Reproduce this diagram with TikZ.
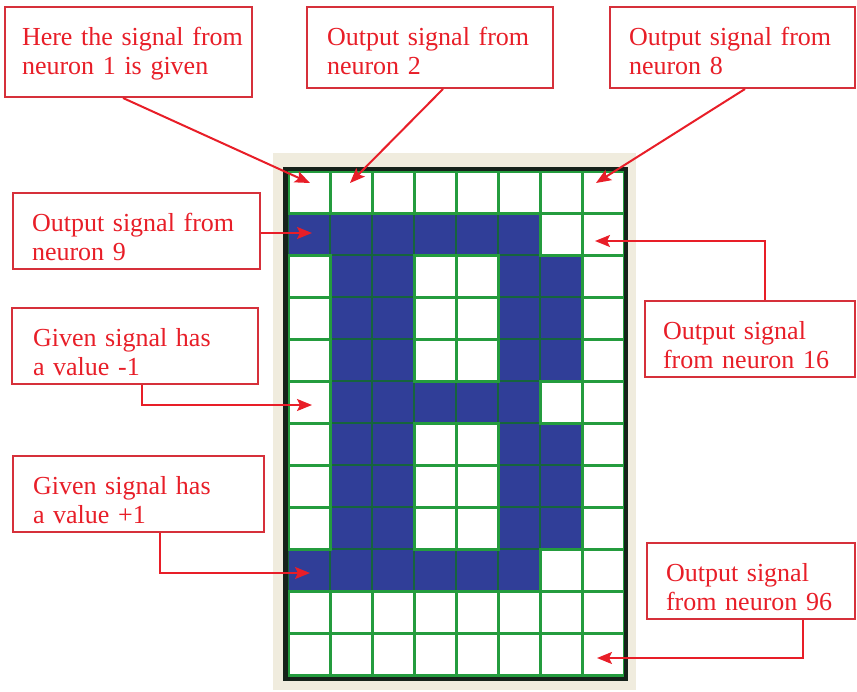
\documentclass[tikz,border=0pt]{standalone}
\usepackage{fontspec}
\setmainfont{Liberation Serif}
\usepackage{tikz}
\usetikzlibrary{arrows.meta,calc}
\definecolor{gridBeige}{RGB}{240,236,222}
\definecolor{cellBlue}{RGB}{48,62,152}
\definecolor{gridGreen}{RGB}{36,156,62}
\definecolor{gridDark}{RGB}{22,100,62}
\definecolor{frameDark}{RGB}{22,34,26}
\definecolor{calloutRed}{RGB}{214,48,58}
\definecolor{signalRed}{RGB}{232,30,40}
% rows of the letter, 1 = value +1 (blue), 0 = value -1 (white)
\def\letterrows{{0,0,0,0,0,0,0,0},{1,1,1,1,1,1,0,0},{0,1,1,0,0,1,1,0},%
  {0,1,1,0,0,1,1,0},{0,1,1,0,0,1,1,0},{0,1,1,1,1,1,0,0},{0,1,1,0,0,1,1,0},%
  {0,1,1,0,0,1,1,0},{0,1,1,0,0,1,1,0},{1,1,1,1,1,1,0,0},{0,0,0,0,0,0,0,0},%
  {0,0,0,0,0,0,0,0}}

\begin{document}
\begin{tikzpicture}[x=1pt, y=-1pt,
    callout/.style={rectangle, draw=calloutRed, fill=white, line width=2pt,
      text=signalRed, align=left, inner xsep=0pt, inner ysep=0pt,
      text height=38pt, font=\fontsize{26}{29.5}\selectfont},
    pointer/.style={draw=signalRed, line width=2pt,
      -{Stealth[length=15pt, width=12pt, inset=3pt]}},
    gridline/.style={draw=gridGreen, line width=3pt},
    innerline/.style={draw=gridDark, line width=2pt}
  ]
  \useasboundingbox (0,0) rectangle (857,691);

  % panel with the 8 x 12 grid of neurons
  \fill[gridBeige] (273,153) rectangle (636,690);
  \fill[white] (285,169) rectangle (626,679);
  \foreach \bits [count=\r] in \letterrows {
    \foreach \b [count=\c] in \bits {
      \ifnum\b=1 \fill[cellBlue] ({288+42*(\c-1)},{171+42*(\r-1)}) rectangle ++(42,42); \fi
    }
  }
  \foreach \i in {0,...,8} \draw[innerline] ({288+42*\i},171) -- ++(0,504);
  \foreach \j in {0,...,12} \draw[innerline] (288,{171+42*\j}) -- ++(336,0);
  \foreach \bits [count=\r] in \letterrows {
    \foreach \b [count=\c] in \bits {
      \ifnum\b=0 \draw[gridline] ({288+42*(\c-1)},{171+42*(\r-1)}) rectangle ++(42,42); \fi
    }
  }
  \draw[frameDark, line width=4.5pt] (285.5,169) rectangle (626,679);

  % points the callouts refer to
  \coordinate (n1)  at (310,183);
  \coordinate (n2)  at (350,183);
  \coordinate (n8)  at (596,183);
  \coordinate (n9)  at (312,233);
  \coordinate (n16) at (595,241);
  \coordinate (n41) at (312,405);
  \coordinate (n73) at (310,573);
  \coordinate (n96) at (597,658);

  % callouts
  \node[callout, minimum width=247pt, minimum height=90pt, text width=213pt, text depth=52pt]
    (b1) at (128.5,52) {\mbox{Here the signal from}\\neuron 1 is given};
  \node[callout, minimum width=246pt, minimum height=81pt, text width=206pt, text depth=43pt]
    (b2) at (430,47.5) {\mbox{Output signal from}\\neuron 2};
  \node[callout, minimum width=245pt, minimum height=81pt, text width=207pt, text depth=43pt]
    (b3) at (732.5,47.5) {\mbox{Output signal from}\\neuron 8};
  \node[callout, minimum width=247pt, minimum height=76pt, text width=209pt, text depth=38pt]
    (b4) at (136.5,231) {\mbox{Output signal from}\\neuron 9};
  \node[callout, minimum width=246pt, minimum height=76pt, text width=204pt, text depth=38pt]
    (b5) at (135,346) {Given signal has\\a value -1};
  \node[callout, minimum width=210pt, minimum height=76pt, text width=174pt, text depth=38pt]
    (b6) at (750,339) {Output signal\\from neuron 16};
  \node[callout, minimum width=251pt, minimum height=76pt, text width=211pt, text depth=38pt]
    (b7) at (138.5,494) {Given signal has\\a value +1};
  \node[callout, minimum width=208pt, minimum height=76pt, text width=170pt, text depth=38pt]
    (b8) at (751,581) {Output signal\\\mbox{from neuron 96}};

  \draw[pointer] ([xshift=-5.5pt]b1.south) -- (n1);
  \draw[pointer] ([xshift=13pt]b2.south) -- (n2);
  \draw[pointer] ([xshift=12.5pt]b3.south) -- (n8);
  \draw[pointer] (b4.east |- n9) -- (n9);
  \draw[pointer] ([xshift=7pt]b5.south) |- (n41);
  \draw[pointer] ([xshift=15pt]b6.north) |- (n16);
  \draw[pointer] ([xshift=21.5pt]b7.south) |- (n73);
  \draw[pointer] ([xshift=52pt]b8.south) |- (n96);
\end{tikzpicture}
\end{document}
